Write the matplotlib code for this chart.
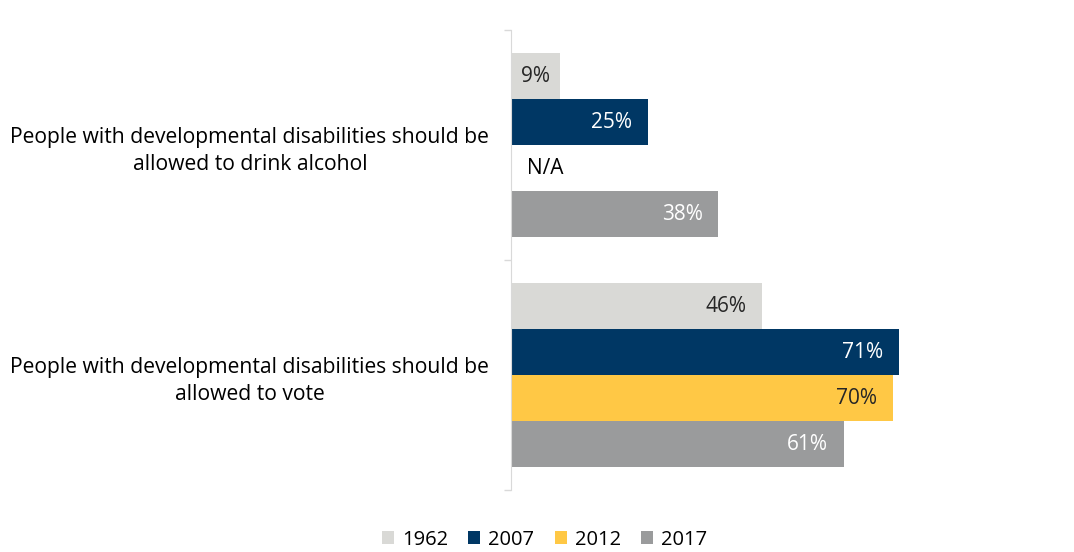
import matplotlib
matplotlib.use("Agg")
import matplotlib.pyplot as plt
from matplotlib.patches import Patch

plt.rcParams['font.family'] = ['Open Sans', 'DejaVu Sans']

statements = [
    "People with developmental disabilities should be\nallowed to drink alcohol",
    "People with developmental disabilities should be\nallowed to vote",
]
years = ["1962", "2007", "2012", "2017"]
# percent agreeing; None = question not asked that year
values_1962 = [9, 46]
values_2007 = [25, 71]
values_2012 = [None, 70]
values_2017 = [38, 61]

series = [values_1962, values_2007, values_2012, values_2017]
colors = ["#D9D9D6", "#003764", "#FFC845", "#9A9B9C"]
label_colors = ["#262626", "#FFFFFF", "#262626", "#FFFFFF"]
FS = 15

fig = plt.figure(figsize=(10.74, 5.52), dpi=100)
ax = fig.add_axes([511 / 1074, 62 / 552, 546 / 1074, 460 / 552])

bar_h = 0.2
offsets = [-0.3, -0.1, 0.1, 0.3]
for vals, off, col, lcol in zip(series, offsets, colors, label_colors):
    for i, v in enumerate(vals):
        y = i + off
        if v is None:
            ax.text(3, y, "N/A", va="center", ha="left", fontsize=FS, color="#000000")
            continue
        ax.barh(y, v, height=bar_h, color=col, edgecolor="none")
        if v < 12:
            ax.text(v / 2, y, f"{v}%", va="center", ha="center", fontsize=FS, color=lcol)
        else:
            ax.text(v - 2.9, y, f"{v}%", va="center", ha="right", fontsize=FS, color=lcol)

ax.set_xlim(0, 100)
ax.set_ylim(1.5, -0.5)
ax.set_xticks([])
ax.set_yticks([0, 1])
ax.set_yticklabels(statements, ha="center", multialignment="center", fontsize=15.2,
                   linespacing=1.4)
ax.tick_params(axis="y", which="major", length=0, pad=188)
ax.set_yticks([-0.5, 0.5, 1.5], minor=True)
ax.tick_params(axis="y", which="minor", length=5, color="#D9D9D9", width=1)
for s in ["top", "right", "bottom"]:
    ax.spines[s].set_visible(False)
ax.spines["left"].set_color("#D9D9D9")

handles = [Patch(facecolor=c, edgecolor="none") for c in colors]
fig.legend(handles, years, loc="center", bbox_to_anchor=(0.507, 0.022), ncol=4,
           frameon=False, fontsize=14.5, handlelength=0.6, handleheight=0.6,
           handletextpad=0.4, columnspacing=1.0)

fig.savefig("out.png", dpi=100)
